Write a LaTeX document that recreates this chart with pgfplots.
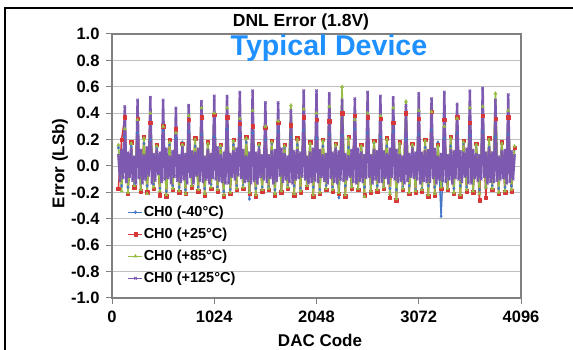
\documentclass[border=0pt]{standalone}
\usepackage{pgfplots}
\pgfplotsset{compat=1.18}
\usepackage{pgfplotstable}
\usepackage{fontspec}
\setmainfont{Liberation Sans}
\definecolor{cB}{RGB}{70,120,200}
\definecolor{cR}{RGB}{215,55,55}
\definecolor{cG}{RGB}{150,190,70}
\definecolor{cP}{RGB}{125,90,175}
\definecolor{tBlue}{RGB}{30,144,255}
\pgfplotstableread{
x b r g
64 0.14 -0.17 0.16
96 -0.15 0.20 -0.19
128 0.22 0.37 0.28
160 -0.16 -0.21 -0.20
192 0.15 0.18 0.17
224 -0.14 -0.16 -0.15
256 0.25 0.36 0.35
288 -0.18 -0.19 -0.18
320 0.17 0.22 0.21
352 -0.15 -0.20 -0.21
384 0.20 0.33 0.40
416 -0.14 -0.17 -0.16
448 0.14 0.16 0.15
480 -0.17 -0.22 -0.19
512 0.27 0.30 0.30
544 -0.19 -0.23 -0.22
576 0.16 0.20 0.18
608 -0.15 -0.18 -0.17
640 0.21 0.28 0.25
672 -0.16 -0.20 -0.19
704 0.18 0.17 0.16
736 -0.18 -0.21 -0.21
768 0.26 0.35 0.38
800 -0.15 -0.16 -0.15
832 0.15 0.21 0.20
864 -0.16 -0.19 -0.18
896 0.24 0.37 0.44
928 -0.17 -0.22 -0.21
960 0.17 0.18 0.17
992 -0.14 -0.17 -0.16
1024 0.22 0.39 0.40
1056 -0.16 -0.19 -0.18
1088 0.14 0.16 0.15
1120 -0.19 -0.23 -0.22
1152 0.28 0.37 0.44
1184 -0.18 -0.21 -0.20
1216 0.16 0.20 0.19
1248 -0.15 -0.18 -0.17
1280 0.23 0.32 0.36
1312 -0.15 -0.17 -0.16
1344 0.18 0.22 0.21
1376 -0.25 -0.21 -0.20
1408 0.25 0.30 0.42
1440 -0.17 -0.23 -0.22
1472 0.15 0.17 0.16
1504 -0.16 -0.19 -0.18
1536 0.20 0.29 0.30
1568 -0.16 -0.18 -0.17
1600 0.17 0.19 0.18
1632 -0.18 -0.22 -0.21
1664 0.26 0.33 0.34
1696 -0.19 -0.20 -0.19
1728 0.14 0.16 0.15
1760 -0.15 -0.17 -0.16
1792 0.22 0.31 0.46
1824 -0.15 -0.22 -0.21
1856 0.16 0.21 0.20
1888 -0.17 -0.20 -0.19
1920 0.27 0.37 0.43
1952 -0.17 -0.16 -0.15
1984 0.18 0.18 0.17
2016 -0.16 -0.23 -0.22
2048 0.21 0.35 0.40
2080 -0.18 -0.21 -0.20
2112 0.15 0.20 0.19
2144 -0.15 -0.18 -0.17
2176 0.24 0.34 0.45
2208 -0.16 -0.19 -0.18
2240 0.17 0.17 0.16
2272 -0.24 -0.21 -0.20
2304 0.23 0.40 0.60
2336 -0.15 -0.23 -0.22
2368 0.14 0.22 0.21
2400 -0.18 -0.17 -0.16
2432 0.28 0.38 0.35
2464 -0.17 -0.18 -0.17
2496 0.16 0.16 0.15
2528 -0.16 -0.22 -0.23
2560 0.25 0.37 0.40
2592 -0.19 -0.20 -0.19
2624 0.18 0.19 0.18
2656 -0.15 -0.19 -0.18
2688 0.22 0.36 0.38
2720 -0.16 -0.17 -0.16
2752 0.15 0.21 0.20
2784 -0.17 -0.24 -0.21
2816 0.26 0.33 0.44
2848 -0.18 -0.26 -0.25
2880 0.17 0.18 0.17
2912 -0.16 -0.18 -0.17
2944 0.20 0.40 0.49
2976 -0.15 -0.21 -0.20
3008 0.16 0.17 0.16
3040 -0.18 -0.20 -0.19
3072 0.24 0.36 0.42
3104 -0.17 -0.19 -0.18
3136 0.14 0.20 0.19
3168 -0.15 -0.23 -0.22
3200 0.27 0.41 0.41
3232 -0.16 -0.22 -0.21
3264 0.18 0.16 0.15
3296 -0.38 -0.17 -0.16
3328 0.21 0.35 0.30
3360 -0.18 -0.18 -0.17
3392 0.15 0.22 0.21
3424 -0.17 -0.21 -0.20
3456 0.25 0.37 0.36
3488 -0.15 -0.23 -0.22
3520 0.17 0.19 0.18
3552 -0.16 -0.19 -0.18
3584 0.23 0.33 0.44
3616 -0.19 -0.20 -0.19
3648 0.16 0.17 0.16
3680 -0.18 -0.26 -0.21
3712 0.26 0.38 0.45
3744 -0.16 -0.24 -0.16
3776 0.14 0.21 0.20
3808 -0.15 -0.18 -0.17
3840 0.22 0.36 0.55
3872 -0.17 -0.21 -0.20
3904 0.18 0.18 0.17
3936 -0.16 -0.20 -0.19
3968 0.24 0.37 0.42
4000 -0.15 -0.19 -0.18
4032 0.13 0.14 0.15
}\tabA
\pgfplotstableread[row sep=\\]{
x p\\
64 0.08\\ 80 -0.11\\ 96 0.12\\ 112 -0.09\\ 128 0.45\\
144 -0.12\\ 160 0.10\\ 176 -0.08\\ 192 0.13\\ 208 -0.11\\ 224 0.07\\ 240 -0.13\\ 256 0.50\\
272 -0.09\\ 288 0.12\\ 304 -0.13\\ 320 0.08\\ 336 -0.10\\ 352 0.14\\ 368 -0.07\\ 384 0.52\\
400 -0.13\\ 416 0.09\\ 432 -0.11\\ 448 0.12\\ 464 -0.06\\ 480 0.10\\ 496 -0.12\\ 512 0.50\\
528 -0.10\\ 544 0.13\\ 560 -0.09\\ 576 0.07\\ 592 -0.13\\ 608 0.11\\ 624 -0.08\\ 640 0.44\\
656 -0.11\\ 672 0.08\\ 688 -0.12\\ 704 0.14\\ 720 -0.10\\ 736 0.09\\ 752 -0.13\\ 768 0.46\\
784 -0.08\\ 800 0.11\\ 816 -0.13\\ 832 0.10\\ 848 -0.07\\ 864 0.13\\ 880 -0.11\\ 896 0.49\\
912 -0.12\\ 928 0.07\\ 944 -0.10\\ 960 0.12\\ 976 -0.13\\ 992 0.09\\ 1008 -0.09\\ 1024 0.53\\
1040 -0.10\\ 1056 0.14\\ 1072 -0.11\\ 1088 0.08\\ 1104 -0.12\\ 1120 0.10\\ 1136 -0.13\\ 1152 0.53\\
1168 -0.13\\ 1184 0.09\\ 1200 -0.08\\ 1216 0.11\\ 1232 -0.10\\ 1248 0.13\\ 1264 -0.07\\ 1280 0.56\\
1296 -0.09\\ 1312 0.12\\ 1328 -0.12\\ 1344 0.07\\ 1360 -0.11\\ 1376 0.10\\ 1392 -0.13\\ 1408 0.57\\
1424 -0.11\\ 1440 0.10\\ 1456 -0.13\\ 1472 0.13\\ 1488 -0.08\\ 1504 0.08\\ 1520 -0.10\\ 1536 0.48\\
1552 -0.12\\ 1568 0.08\\ 1584 -0.09\\ 1600 0.11\\ 1616 -0.13\\ 1632 0.12\\ 1648 -0.11\\ 1664 0.48\\
1680 -0.07\\ 1696 0.13\\ 1712 -0.12\\ 1728 0.09\\ 1744 -0.10\\ 1760 0.07\\ 1776 -0.12\\ 1792 0.42\\
1808 -0.13\\ 1824 0.11\\ 1840 -0.10\\ 1856 0.12\\ 1872 -0.09\\ 1888 0.10\\ 1904 -0.08\\ 1920 0.57\\
1936 -0.10\\ 1952 0.07\\ 1968 -0.13\\ 1984 0.10\\ 2000 -0.12\\ 2016 0.13\\ 2032 -0.11\\ 2048 0.57\\
2064 -0.12\\ 2080 0.12\\ 2096 -0.08\\ 2112 0.08\\ 2128 -0.11\\ 2144 0.09\\ 2160 -0.13\\ 2176 0.55\\
2192 -0.09\\ 2208 0.10\\ 2224 -0.12\\ 2240 0.13\\ 2256 -0.13\\ 2272 0.11\\ 2288 -0.10\\ 2304 0.50\\
2320 -0.11\\ 2336 0.09\\ 2352 -0.10\\ 2368 0.07\\ 2384 -0.08\\ 2400 0.12\\ 2416 -0.12\\ 2432 0.51\\
2448 -0.13\\ 2464 0.13\\ 2480 -0.11\\ 2496 0.10\\ 2512 -0.12\\ 2528 0.08\\ 2544 -0.09\\ 2560 0.56\\
2576 -0.08\\ 2592 0.08\\ 2608 -0.13\\ 2624 0.12\\ 2640 -0.10\\ 2656 0.11\\ 2672 -0.12\\ 2688 0.53\\
2704 -0.12\\ 2720 0.11\\ 2736 -0.09\\ 2752 0.09\\ 2768 -0.13\\ 2784 0.13\\ 2800 -0.08\\ 2816 0.52\\
2832 -0.10\\ 2848 0.12\\ 2864 -0.12\\ 2880 0.08\\ 2896 -0.11\\ 2912 0.07\\ 2928 -0.13\\ 2944 0.46\\
2960 -0.11\\ 2976 0.09\\ 2992 -0.08\\ 3008 0.13\\ 3024 -0.09\\ 3040 0.10\\ 3056 -0.10\\ 3072 0.55\\
3088 -0.13\\ 3104 0.10\\ 3120 -0.11\\ 3136 0.11\\ 3152 -0.12\\ 3168 0.12\\ 3184 -0.12\\ 3200 0.51\\
3216 -0.09\\ 3232 0.13\\ 3248 -0.13\\ 3264 0.07\\ 3280 -0.10\\ 3296 0.09\\ 3312 -0.11\\ 3328 0.56\\
3344 -0.12\\ 3360 0.08\\ 3376 -0.10\\ 3392 0.12\\ 3408 -0.13\\ 3424 0.11\\ 3440 -0.09\\ 3456 0.47\\
3472 -0.10\\ 3488 0.11\\ 3504 -0.12\\ 3520 0.10\\ 3536 -0.08\\ 3552 0.13\\ 3568 -0.13\\ 3584 0.57\\
3600 -0.13\\ 3616 0.12\\ 3632 -0.09\\ 3648 0.09\\ 3664 -0.11\\ 3680 0.08\\ 3696 -0.10\\ 3712 0.59\\
3728 -0.08\\ 3744 0.10\\ 3760 -0.13\\ 3776 0.13\\ 3792 -0.12\\ 3808 0.10\\ 3824 -0.12\\ 3840 0.50\\
3856 -0.11\\ 3872 0.07\\ 3888 -0.10\\ 3904 0.11\\ 3920 -0.09\\ 3936 0.12\\ 3952 -0.13\\ 3968 0.54\\
3984 -0.12\\ 4000 0.11\\ 4016 -0.10\\ 4032 0.08\\
}\tabP
\begin{document}
\begin{tikzpicture}
\path[use as bounding box] (0pt,0pt) rectangle (573pt,350pt);
\draw[line width=2pt] (5pt,0pt) -- (5pt,342pt) -- (573pt,342pt);
\begin{axis}[
  at={(112pt,52pt)}, anchor=south west, scale only axis,
  width=409pt, height=264pt,
  xmin=0, xmax=4096, ymin=-1, ymax=1,
  xtick={0,1024,2048,3072,4096},
  xticklabels={0,1024,2048,3072,4096},
  ytick={-1,-0.8,-0.6,-0.4,-0.2,0,0.2,0.4,0.6,0.8,1},
  yticklabels={-1.0,-0.8,-0.6,-0.4,-0.2,0.0,0.2,0.4,0.6,0.8,1.0},
  scaled x ticks=false,
  tick align=outside, xtick pos=bottom, ytick pos=left,
  major tick length=6pt,
  tick style={draw=black!50, line width=1pt},
  axis line style={draw=black!50, line width=1.3pt},
  ymajorgrids, grid style={draw=black!25, line width=0.9pt},
  ticklabel style={font=\fontsize{16.5}{18}\selectfont\bfseries},
  yticklabel style={xshift=-3pt},
  xticklabel style={yshift=-3pt},
  xlabel={DAC Code}, ylabel={Error (LSb)},
  label style={font=\fontsize{17}{19}\selectfont\bfseries},
  xlabel style={at={(axis description cs:0.5086,-0.1856)}, anchor=base},
  ylabel style={at={(axis description cs:-0.127,0.51)}, anchor=center},
  legend cell align=left,
  legend style={at={(axis description cs:0.039,0.353)}, anchor=north west,
    draw=none, fill=none, inner sep=0pt, row sep=7.5pt, column sep=1pt,
    font=\fontsize{14.5}{16}\selectfont\bfseries,
    nodes={inner sep=0pt, text height=11pt, text depth=3.5pt}},
  legend image code/.code={\draw[line width=0.6pt, mark repeat=2,mark phase=2] plot coordinates {(0pt,0pt) (7pt,0pt) (14pt,0pt)};},
]
\addplot[cB, line width=1.5pt, line join=round, mark=diamond*, mark size=1.6pt, mark options={fill=cB, draw=cB, line width=0.4pt}] table[x=x, y=b] {\tabA};
\addlegendentry{CH0 (-40°C)}
\addplot[cR, line width=1.5pt, line join=round, mark=square*, mark size=1.7pt, mark options={fill=cR, draw=cR, line width=0.4pt}] table[x=x, y=r] {\tabA};
\addlegendentry{CH0 (+25°C)}
\addplot[cG, line width=1.5pt, line join=round, mark=triangle*, mark size=1.9pt, mark options={fill=cG, draw=cG, line width=0.4pt}] table[x=x, y=g] {\tabA};
\addlegendentry{CH0 (+85°C)}
\addplot[cP, line width=2.4pt, line join=round, mark=x, mark size=1.8pt, mark options={draw=cP, line width=0.8pt}] table[x=x, y=p] {\tabP};
\addlegendentry{CH0 (+125°C)}
\end{axis}
\node[anchor=base, font=\fontsize{17.5}{19}\selectfont\bfseries] at (301pt,323pt) {DNL Error (1.8V)};
\node[anchor=base, text=tBlue, font=\fontsize{28.6}{30}\selectfont\bfseries] at (329pt,294pt) {Typical Device};
\end{tikzpicture}
\end{document}
